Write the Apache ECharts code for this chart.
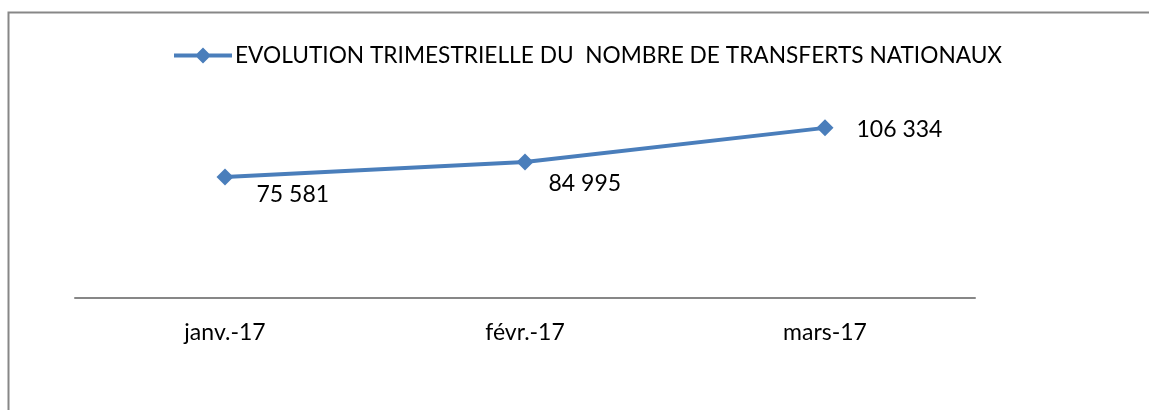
<!DOCTYPE html>
<html>
<head>
<meta charset="utf-8">
<script src="https://cdn.jsdelivr.net/npm/echarts@6/dist/echarts.min.js"></script>
<style>
  html, body { margin: 0; padding: 0; background: #fff; }
  #chart { width: 1149px; height: 410px; }
</style>
</head>
<body>
<div id="chart"></div>
<script>
  const seriesName = 'EVOLUTION TRIMESTRIELLE DU  NOMBRE DE TRANSFERTS NATIONAUX';
  const categories = ['janv.-17', 'févr.-17', 'mars-17'];
  const values = [75581, 84995, 106334];
  // label placement per point (px from symbol box top-left)
  const labelPos = [[40, 26], [32, 30], [40, 10]];

  const fmt = v => String(v).replace(/\B(?=(\d{3})+(?!\d))/g, ' ');
  const FONT = 'Lato, "Open Sans", sans-serif';
  const blue = '#4a7ebb';
  // line-with-diamond legend marker, drawn thick like the series
  const legendIcon = 'path://M0,6 L23,6 L29,0 L35,6 L58,6 L58,10 L35,10 L29,16 L23,10 L0,10 Z';

  const chart = echarts.init(document.getElementById('chart'), null, { renderer: 'canvas' });
  chart.setOption({
    backgroundColor: '#fff',
    animation: false,
    graphic: [{
      type: 'polyline', silent: true,
      shape: { points: [[8.5, 410], [8.5, 12.5], [1149, 12.5]] },
      style: { stroke: '#878787', lineWidth: 2, fill: null }
    }],
    legend: {
      left: 169, top: 39, itemWidth: 58, itemHeight: 16, itemGap: 4,
      icon: legendIcon,
      textStyle: { fontFamily: FONT, fontSize: 22.7, color: '#000', padding: [0, 0, 0, -2] }
    },
    grid: { left: 75, right: 174, top: 106, bottom: 112 },
    xAxis: {
      type: 'category', data: categories, boundaryGap: true,
      axisLine: { lineStyle: { color: '#878787', width: 2 } },
      axisTick: { show: false },
      axisLabel: { fontFamily: FONT, fontSize: 23, color: '#000', margin: 23 }
    },
    yAxis: { type: 'value', min: 0, max: 120000, show: false, splitLine: { show: false } },
    series: [{
      name: seriesName, type: 'line', data: values.map((v, i) => ({
        value: v,
        label: { position: labelPos[i] }
      })),
      symbol: 'diamond', symbolSize: 17,
      lineStyle: { color: blue, width: 4 },
      itemStyle: { color: blue },
      label: {
        show: true, fontFamily: FONT, fontSize: 23, color: '#000',
        align: 'left', verticalAlign: 'middle',
        formatter: p => fmt(p.value)
      }
    }]
  });
</script>
</body>
</html>
